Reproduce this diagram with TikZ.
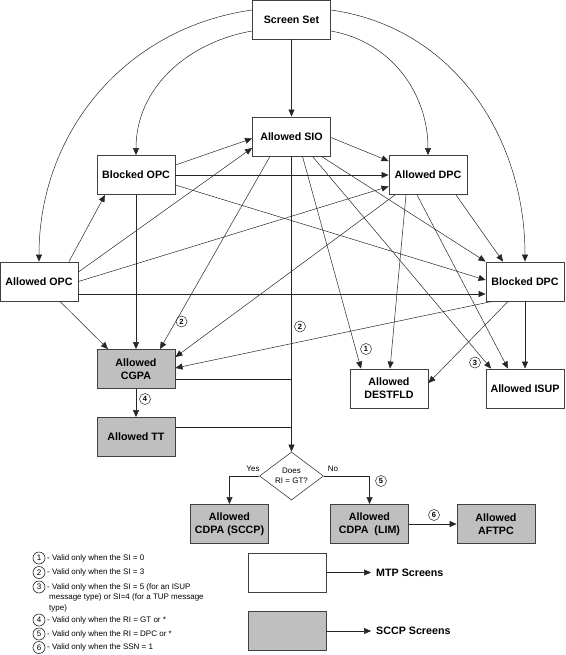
\documentclass[tikz,border=0pt]{standalone}
\usepackage{fontspec}
\setmainfont{Liberation Sans}
\usepackage{tikz}
\usetikzlibrary{arrows.meta,shapes.geometric}
\definecolor{sccpgray}{rgb}{0.75,0.75,0.75}

\begin{document}
\begin{tikzpicture}[x=1pt,y=1pt,>={Triangle[length=7pt,width=6pt]},
	mtp/.style={draw=black!75,line width=0.9pt,fill=white,minimum width=78pt,minimum height=39pt,inner sep=1pt,align=center,font=\fontsize{10.7}{13}\selectfont\bfseries},
	sccp/.style={mtp,fill=sccpgray},
	link/.style={draw=black!85,line width=0.5pt},
	num/.style={circle,draw=black!85,line width=0.5pt,inner sep=0pt,minimum size=11pt,font=\fontsize{7.5}{7.5}\selectfont\bfseries},
	keynum/.style={num,minimum size=12pt,line width=0.6pt,font=\fontsize{8}{8}\selectfont},
	note/.style={anchor=west,inner sep=0pt,font=\fontsize{8}{10}\selectfont}]
			\useasboundingbox (0,0) rectangle (565,-655);
			\coordinate (p1) at (291.5,-19.5);
			\coordinate (p2) at (291.5,-136.5);
			\coordinate (p3) at (136,-175);
			\coordinate (p4) at (428,-175);
			\coordinate (p5) at (39,-281.5);
			\coordinate (p6) at (525,-281.5);
			\coordinate (p7) at (136,-369);
			\coordinate (p8) at (389,-388.5);
			\coordinate (p9) at (525,-388.5);
			\coordinate (p10) at (136,-437);
			\coordinate (p11) at (291.5,-476);
			\coordinate (p12) at (229.5,-524);
			\coordinate (p13) at (369.5,-524);
			\coordinate (p14) at (496,-524);
			\coordinate (j1) at (291.5,-379);
			\coordinate (j2) at (291.5,-427);
			
			\node (ss) at (p1) [mtp] {Screen Set};
			\node (sio) at (p2) [mtp] {Allowed SIO};
			\node (bopc) at (p3) [mtp] {Blocked OPC};
			\node (adpc) at (p4) [mtp] {Allowed DPC};
			\node (aopc) at (p5) [mtp] {Allowed OPC};
			\node (bdpc) at (p6) [mtp] {Blocked DPC};
			\node (cgpa) at (p7) [sccp] {Allowed\\CGPA};
			\node (dest) at (p8) [mtp] {Allowed\\DESTFLD};
			\node (isup) at (p9) [mtp] {Allowed ISUP};
			\node (tt) at (p10) [sccp] {Allowed TT};
			\node (dm) at (p11) [diamond,draw=black!75,line width=0.6pt,minimum width=64pt,minimum height=48pt,inner sep=0pt,aspect=1.33,align=center,font=\fontsize{8}{10}\selectfont] {Does\\RI = GT?};
			\node (cdsccp) at (p12) [sccp] {Allowed\\CDPA (SCCP)};
			\node (cdlim) at (p13) [sccp] {Allowed\\CDPA\ \ (LIM)};
			\node (aftpc) at (p14) [sccp] {Allowed\\AFTPC};
			
			\draw[link,->] (ss.south) -- (sio.north);
			\draw[link,->] ([yshift=-11.5pt]ss.west) to[out=190,in=90] (bopc.north);
			\draw[link,->] ([yshift=-11.5pt]ss.east) to[out=-10,in=90] (adpc.north);
			\draw[link,->] ([yshift=9.5pt]ss.west) to[out=188,in=90] (aopc.north);
			\draw[link,->] ([yshift=9.5pt]ss.east) to[out=-8,in=90] (bdpc.north);
			
			\draw[link,->] ([yshift=10pt]bopc.east) -- ([yshift=-2pt]sio.west);
			\draw[link,->] (bopc.east) -- (adpc.west);
			\draw[link,->] ([yshift=-10pt]bopc.east) -- ([yshift=1.5pt]bdpc.west);
			\draw[link,->] (bopc.south) -- (cgpa.north);
			
			\draw[link,->] ([xshift=30pt]aopc.north) -- ([xshift=-31pt]bopc.south);
			\draw[link,->] ([yshift=9.5pt]aopc.east) -- ([yshift=-11.5pt]sio.west);
			\draw[link,->] (aopc.east) -- ([yshift=-11.5pt]adpc.west);
			\draw[link,->] ([yshift=-12.5pt]aopc.east) -- ([yshift=-12.5pt]bdpc.west);
			\draw[link,->] ([xshift=21pt]aopc.south) -- ([xshift=-28pt]cgpa.north);
			
			\draw[link,->] ([yshift=-1pt]sio.east) -- ([yshift=14pt]adpc.west);
			\draw[link,->] ([xshift=-21.5pt]sio.south) -- ([xshift=24pt]cgpa.north);
			\draw[link,->] (sio.south) -- (dm.north);
			\draw[link,->] ([xshift=11pt]sio.south) -- ([xshift=-28pt]dest.north);
			\draw[link,->] ([xshift=21pt]sio.south) -- ([xshift=-34pt]isup.north);
			\draw[link,->] ([xshift=30pt]sio.south) -- (bdpc.north west);
			
			\draw[link,->] ([xshift=28pt]adpc.south) -- ([xshift=-22pt]bdpc.north);
			\draw[link,->] ([xshift=-33pt]adpc.south) -- ([yshift=12pt]cgpa.east);
			\draw[link,->] ([xshift=-22pt]adpc.south) -- ([xshift=1pt]dest.north);
			\draw[link,->] ([xshift=-11pt]adpc.south) -- ([xshift=-17pt]isup.north);
			
			\draw[link,->] ([xshift=-33pt]bdpc.south) -- ([yshift=1pt]cgpa.east);
			\draw[link,->] ([xshift=-17pt]bdpc.south) -- ([yshift=5.5pt]dest.east);
			\draw[link,->] (bdpc.south) -- (isup.north);
			
			\draw[link,->] (cgpa.south) -- (tt.north);
			\draw[link] (cgpa.east |- j1) -- (j1);
			\draw[link] (tt.east |- j2) -- (j2);
			\draw[link,->] (dm.west) -| (cdsccp.north);
			\draw[link,->] (dm.east) -| (cdlim.north);
			\draw[link,->] (cdlim.east) -- (aftpc.west);
			
			\node (yes) at (253,-469) [inner sep=0pt,font=\fontsize{8}{10}\selectfont] {Yes};
			\node (no) at (333,-469) [inner sep=0pt,font=\fontsize{8}{10}\selectfont] {No};
			
			\node (c2a) at (181.5,-321.5) [num] {2};
			\node (c2b) at (300,-326.5) [num] {2};
			\node (c1) at (366,-349) [num] {1};
			\node (c3) at (475,-362.5) [num] {3};
			\node (c4) at (145,-399) [num] {4};
			\node (c5) at (381,-481) [num] {5};
			\node (c6) at (434,-515) [num] {6};
			
			\node (k1) at (39,-558) [keynum] {1};
			\node (k2) at (39,-572.5) [keynum] {2};
			\node (k3) at (39,-587) [keynum] {3};
			\node (k4) at (39,-620) [keynum] {4};
			\node (k5) at (39,-634) [keynum] {5};
			\node (k6) at (39,-647.5) [keynum] {6};
			\node (t1) at (47,-558) [note] {- Valid only when the SI = 0};
			\node (t2) at (47,-572.5) [note] {- Valid only when the SI = 3};
			\node (t3) at (47,-587) [note] {- Valid only when the SI = 5 (for an ISUP};
			\node (t3b) at (49,-597.5) [note] {message type) or SI=4 (for a TUP message};
			\node (t3c) at (49,-608) [note] {type)};
			\node (t4) at (47,-620) [note] {- Valid only when the RI = GT or *};
			\node (t5) at (47,-634) [note] {- Valid only when the RI = DPC or *};
			\node (t6) at (47,-647.5) [note] {- Valid only when the SSN = 1};
			
			\node (keymtp) at (287,-572.5) [mtp] {};
			\node (keysccp) at (287,-631) [sccp] {};
			\coordinate (m1) at (371,-572.5);
			\coordinate (m2) at (371,-631);
			\draw[link,->] (keymtp.east) -- (m1);
			\draw[link,->] (keysccp.east) -- (m2);
			\node (lmtp) at (376,-572.5) [anchor=west,inner sep=0pt,font=\fontsize{10.7}{13}\selectfont\bfseries] {MTP Screens};
			\node (lsccp) at (376,-631) [anchor=west,inner sep=0pt,font=\fontsize{10.7}{13}\selectfont\bfseries] {SCCP Screens};
		\end{tikzpicture}
\end{document}
